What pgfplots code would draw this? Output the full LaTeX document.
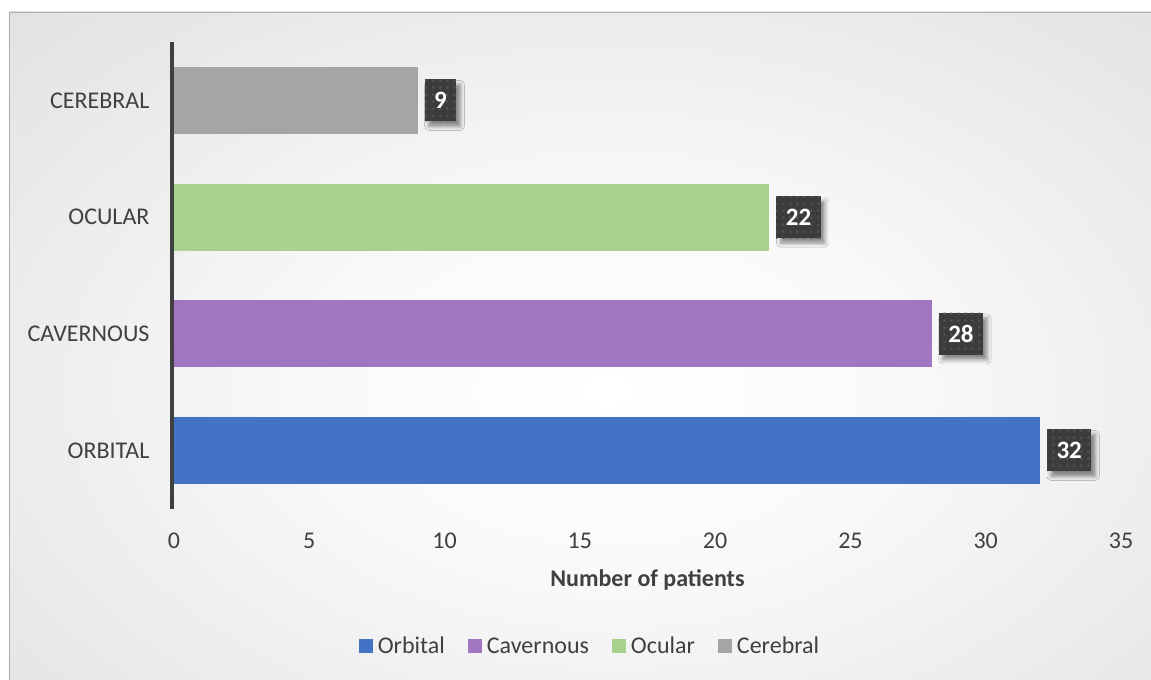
\documentclass[border=0pt]{standalone}
\usepackage{fontspec}
\setmainfont{Carlito}
\usepackage{pgfplots}
\pgfplotsset{compat=1.18}
\usetikzlibrary{patterns,shadows.blur}

\definecolor{orbital}{HTML}{4472C4}
\definecolor{cavernous}{HTML}{A076C0}
\definecolor{ocular}{HTML}{A9D18E}
\definecolor{cerebral}{HTML}{A5A5A5}
\definecolor{txt}{HTML}{404040}
\definecolor{lblbox}{HTML}{3C3C3C}
\definecolor{lbldot}{HTML}{575757}
\definecolor{bgedge}{HTML}{BDBDBD}
\definecolor{chartborder}{HTML}{B0B0B0}
\definecolor{yline}{HTML}{404040}

% soft radial background of the chart area
\pgfdeclareradialshading{chartbg}{\pgfpointorigin}{%
  color(0bp)=(white);
  color(8bp)=(white!98!black);
  color(22bp)=(white!90!black);
  color(36bp)=(white!83!black);
  color(50bp)=(bgedge)}

% dotted texture of the value boxes
\pgfdeclarepatternformonly{lbldots}{\pgfqpoint{0bp}{0bp}}{\pgfqpoint{7.3bp}{7.3bp}}{\pgfqpoint{7.3bp}{7.3bp}}{%
  \pgfpathrectangle{\pgfqpoint{2.5bp}{2.5bp}}{\pgfqpoint{2.2bp}{2.2bp}}\pgfusepath{fill}}

\begin{document}
\begin{tikzpicture}[font=\fontsize{24bp}{28bp}\selectfont]
\useasboundingbox (-174bp,-171.2bp) rectangle (977bp,508.8bp);
\begin{scope}
  \clip (-165bp,-171.2bp) rectangle (977bp,496.8bp);
  \fill[bgedge] (-165bp,-171.2bp) rectangle (977bp,496.8bp);
  \shade[shading=chartbg] (436bp,118.8bp) ellipse [x radius=860bp, y radius=540bp];
\end{scope}
\draw[chartborder, line width=0.8bp] (-165bp,-171.2bp) -- (-165bp,496.8bp) -- (977bp,496.8bp);

\begin{axis}[
  scale only axis,
  width=947bp, height=466.7bp,
  xmin=0, xmax=35, ymin=-0.5, ymax=3.5,
  clip=false,
  axis line style={draw=none},
  major tick length=0pt,
  /pgf/number format/assume math mode=true,
  xbar, bar width=67bp, bar shift=0pt,
  xtick={0,5,...,35},
  ytick={0,1,2,3},
  yticklabels={ORBITAL,CAVERNOUS,OCULAR,CEREBRAL},
  every tick label/.append style={text=txt},
  xticklabel style={anchor=base, yshift=-39.2bp},
  yticklabel style={anchor=east, xshift=-21bp},
  xlabel={\bfseries Number of patients},
  every axis x label/.style={at={(axis description cs:0.5,0)}, anchor=base, yshift=-77.2bp, text=txt},
  point meta=x,
  nodes near coords={\pgfmathprintnumber{\pgfplotspointmeta}},
  nodes near coords style={
    font=\fontsize{25bp}{29bp}\selectfont\bfseries, text=white,
    fill=lblbox, inner xsep=9.5bp, inner ysep=0pt, minimum height=42bp,
    anchor=west, xshift=7bp,
    blur shadow={shadow xshift=4bp, shadow yshift=-5bp, shadow blur radius=4bp, shadow opacity=45},
    postaction={pattern=lbldots, pattern color=lbldot}},
  legend columns=4,
  legend style={at={(0.4393,-0.294)}, anchor=center, draw=none, fill=none,
    text=txt,
    /tikz/every odd column/.append style={column sep=3bp},
    /tikz/every even column/.append style={column sep=21bp}},
  legend image code/.code={\fill[#1, draw=none] (0bp,-7bp) rectangle (14bp,7bp);},
]
\addplot[fill=orbital, draw=none] coordinates {(32,0)};
\addplot[fill=cavernous, draw=none] coordinates {(28,1)};
\addplot[fill=ocular, draw=none] coordinates {(22,2)};
\addplot[fill=cerebral, draw=none] coordinates {(9,3)};
\legend{Orbital, Cavernous, Ocular, Cerebral}
\draw[yline, line width=4bp] ([xshift=-2bp]axis cs:0,-0.5) -- ([xshift=-2bp]axis cs:0,3.5);
\end{axis}
\end{tikzpicture}
\end{document}
